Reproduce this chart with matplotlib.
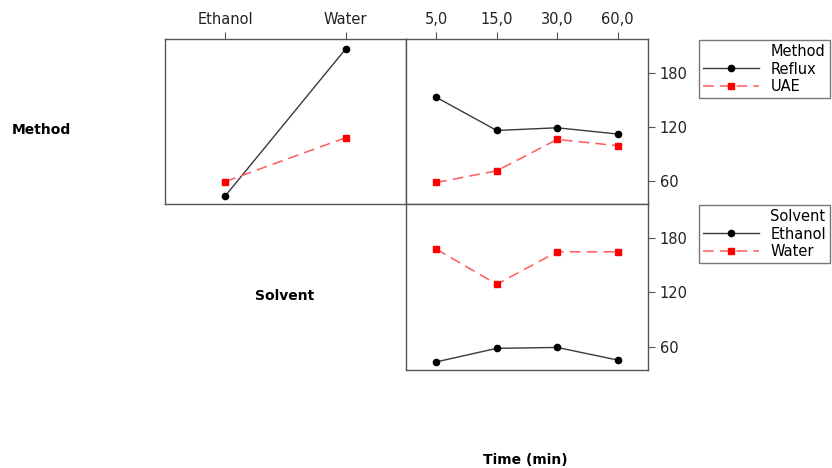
import matplotlib.pyplot as plt
from matplotlib.lines import Line2D

solvents = ['Ethanol', 'Water']
times = ['5,0', '15,0', '30,0', '60,0']

reflux_by_solvent = [43, 207]
uae_by_solvent = [59, 108]
reflux_by_time = [153, 116, 119, 112]
uae_by_time = [58, 71, 106, 99]
ethanol_by_time = [43, 58, 59, 45]
water_by_time = [168, 129, 165, 165]

W, H = 832, 468
fig = plt.figure(figsize=(W / 100, H / 100), dpi=100)


def px_axes(x0, y0, x1, y1):
    return fig.add_axes([x0 / W, 1 - y1 / H, (x1 - x0) / W, (y1 - y0) / H])


black = dict(color='#3a3a3a', lw=1, marker='o', ms=4.5, mfc='black', mec='black')
red = dict(color='#ff5a5a', lw=1.1, ls=(0, (7, 4)), marker='s', ms=5, mfc='red', mec='red')

ax1 = px_axes(165, 39, 406, 204)
ax2 = px_axes(406, 39, 648, 204)
ax3 = px_axes(406, 204, 648, 370)

ax1.plot(range(len(solvents)), reflux_by_solvent, **black)
ax1.plot(range(len(solvents)), uae_by_solvent, **red)
ax2.plot(range(len(times)), reflux_by_time, **black)
ax2.plot(range(len(times)), uae_by_time, **red)
ax3.plot(range(len(times)), ethanol_by_time, **black)
ax3.plot(range(len(times)), water_by_time, **red)

ax1.set_xlim(-0.5, 1.5)
for ax in (ax2, ax3):
    ax.set_xlim(-0.5, 3.5)
for ax in (ax1, ax2, ax3):
    ax.set_ylim(34, 218)
    for s in ax.spines.values():
        s.set_color('#555555')
        s.set_linewidth(1)
    ax.tick_params(colors='#555555', labelcolor='#222222', labelsize=10.5, length=5)

ax1.set_yticks([])
ax1.xaxis.tick_top()
ax1.set_xticks(range(len(solvents)), solvents)

ax2.xaxis.tick_top()
ax2.set_xticks(range(len(times)), times)
for ax in (ax2, ax3):
    ax.yaxis.tick_right()
    ax.set_yticks([60, 120, 180])
ax3.set_xticks([])

blank = Line2D([], [], color='none')
h_black = Line2D([], [], **black)
h_red = Line2D([], [], **red)
for top, title, names in [(40, 'Method', ['Reflux', 'UAE']),
                          (205, 'Solvent', ['Ethanol', 'Water'])]:
    leg = fig.legend([blank, h_black, h_red], [title] + names,
                     loc='upper left', bbox_to_anchor=(699 / W, 1 - top / H),
                     frameon=True, fancybox=False, edgecolor='#555555',
                     handlelength=3.8, borderaxespad=0, fontsize=10.5,
                     labelspacing=0.15, borderpad=0.3)
    leg.get_frame().set_linewidth(1)

fig.text(12 / W, 1 - 130 / H, 'Method', fontsize=10, fontweight='bold', ha='left', va='center')
fig.text(285 / W, 1 - 296 / H, 'Solvent', fontsize=10, fontweight='bold', ha='center', va='center')
fig.text(525 / W, 1 - 460 / H, 'Time (min)', fontsize=10, fontweight='bold', ha='center', va='center')

fig.savefig('out.png', dpi=100)
